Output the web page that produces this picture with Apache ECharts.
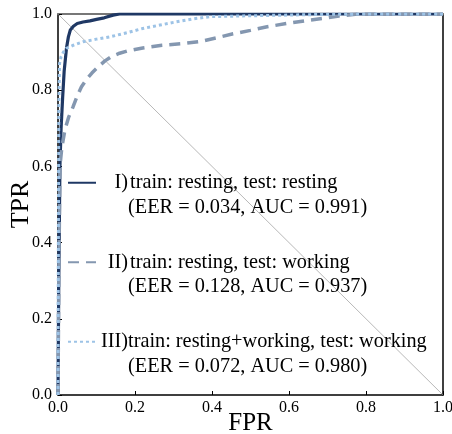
<!DOCTYPE html>
<html>
<head>
<meta charset="utf-8">
<script src="https://cdn.jsdelivr.net/npm/echarts@6/dist/echarts.min.js"></script>
<style>html,body{margin:0;padding:0;background:#fff;}#c{width:452px;height:434px;}</style>
</head>
<body>
<div id="c"></div>
<script>
// ROC curve I: train resting, test resting
const fprI = [0, 0.002, 0.005, 0.008, 0.012, 0.016, 0.022, 0.027, 0.032, 0.04, 0.05, 0.065, 0.083, 0.1, 0.12, 0.143, 0.16, 0.3, 0.6, 1.0];
const tprI = [0, 0.3, 0.6, 0.7, 0.78, 0.85, 0.91, 0.94, 0.958, 0.968, 0.975, 0.979, 0.982, 0.986, 0.99, 0.997, 1.0, 1.0, 1.0, 1.0];
// ROC curve II: train resting, test working
const fprII = [0, 0.002, 0.005, 0.01, 0.018, 0.028, 0.039, 0.05, 0.061, 0.075, 0.088, 0.105, 0.122, 0.14, 0.16, 0.18, 0.22, 0.27, 0.32, 0.37, 0.41, 0.455, 0.5, 0.54, 0.6, 0.655, 0.7, 0.73, 0.78, 0.85, 1.0];
const tprII = [0, 0.3, 0.6, 0.65, 0.696, 0.73, 0.756, 0.785, 0.809, 0.83, 0.845, 0.862, 0.877, 0.889, 0.897, 0.903, 0.911, 0.918, 0.922, 0.928, 0.937, 0.948, 0.957, 0.966, 0.976, 0.984, 0.99, 0.995, 1.0, 1.0, 1.0];
// ROC curve III: train resting+working, test working
const fprIII = [0, 0.001, 0.002, 0.004, 0.008, 0.014, 0.022, 0.04, 0.065, 0.1, 0.135, 0.18, 0.22, 0.265, 0.3, 0.35, 0.395, 0.48, 0.585, 0.7, 0.8, 1.0];
const tprIII = [0, 0.4, 0.75, 0.87, 0.888, 0.9, 0.91, 0.918, 0.927, 0.934, 0.94, 0.951, 0.962, 0.971, 0.978, 0.987, 0.993, 0.995, 0.997, 0.999, 1.0, 1.0];
// chance diagonal (as drawn in the reference)
const diagX = [0, 1];
const diagY = [1, 0];

const seriesNames = ['I', 'II', 'III'];
const legendKeys = ['I)', 'II)', 'III)'];
const legendLine1 = ['train: resting, test: resting', 'train: resting, test: working', 'train: resting+working, test: working'];
const legendLine2 = ['(EER = 0.034, AUC = 0.991)', '(EER = 0.128, AUC = 0.937)', '(EER = 0.072, AUC = 0.980)'];

function zip(xs, ys) { return xs.map((x, i) => [x, ys[i]]); }

const FONT = '"Liberation Serif", "Times New Roman", serif';
const LFS = 20.3;   // legend font size
const LLH = 24.5;   // legend line height
const chart = echarts.init(document.getElementById('c'), null, {renderer: 'canvas'});

chart.setOption({
  animation: false,
  backgroundColor: '#fff',
  grid: {left: 58, right: 9, top: 14, bottom: 39, outerBoundsMode: 'none'},
  xAxis: [{
    type: 'value', min: 0, max: 1, interval: 0.2, position: 'bottom',
    name: 'FPR', nameLocation: 'middle', nameGap: 16, nameMoveOverlap: false,
    nameTextStyle: {fontFamily: FONT, fontSize: 25, color: '#000'},
    axisLine: {show: true, onZero: false, lineStyle: {color: '#000', width: 1.5}},
    axisTick: {show: true, inside: true, length: 4, lineStyle: {color: '#000'}},
    axisLabel: {fontFamily: FONT, fontSize: 16, color: '#000', margin: 5,
      formatter: v => v.toFixed(1)},
    splitLine: {show: false}
  }, {
    type: 'value', min: 0, max: 1, position: 'top',
    axisLine: {show: true, onZero: false, lineStyle: {color: '#777', width: 2}},
    axisTick: {show: false}, axisLabel: {show: false}, splitLine: {show: false}
  }],
  yAxis: [{
    type: 'value', min: 0, max: 1, interval: 0.2, position: 'left',
    name: 'TPR', nameLocation: 'middle', nameGap: 24, nameMoveOverlap: false,
    nameTextStyle: {fontFamily: FONT, fontSize: 26, color: '#000'},
    axisLine: {show: true, onZero: false, lineStyle: {color: '#000', width: 1.5}},
    axisTick: {show: true, inside: true, length: 4, lineStyle: {color: '#000'}},
    axisLabel: {fontFamily: FONT, fontSize: 16, color: '#000', margin: 6,
      formatter: v => v.toFixed(1)},
    splitLine: {show: false}
  }, {
    type: 'value', min: 0, max: 1, position: 'right',
    axisLine: {show: true, onZero: false, lineStyle: {color: '#000', width: 1.5}},
    axisTick: {show: false}, axisLabel: {show: false}, splitLine: {show: false}
  }],
  legend: {
    orient: 'vertical', left: 67, top: 146, padding: 0, itemGap: 6,
    itemWidth: 28, itemHeight: 10,
    itemStyle: {opacity: 0},
    data: seriesNames,
    formatter: function (name) {
      const i = seriesNames.indexOf(name);
      return '{e| }\n{k' + i + '|' + legendKeys[i] + '}{t|' + legendLine1[i] + '}\n{k2| }{t|' + legendLine2[i] + '}';
    },
    textStyle: {
      fontFamily: FONT, fontSize: LFS, color: '#000', lineHeight: LLH,
      rich: {
        e: {fontFamily: FONT, fontSize: LFS, lineHeight: LLH},
        k0: {fontFamily: FONT, fontSize: LFS, lineHeight: LLH, color: '#000', padding: [0, 0, 0, 13.5]},
        k1: {fontFamily: FONT, fontSize: LFS, lineHeight: LLH, color: '#000', padding: [0, 0, 0, 6.8]},
        k2: {fontFamily: FONT, fontSize: LFS, lineHeight: LLH, color: '#000', width: 25},
        t: {fontFamily: FONT, fontSize: LFS, lineHeight: LLH, color: '#000', padding: [0, 0, 0, 2]}
      }
    }
  },
  series: [{
    name: 'diag', type: 'line', data: zip(diagX, diagY), symbol: 'none', silent: true,
    lineStyle: {color: '#999', width: 0.7}, z: 1
  }, {
    name: 'I', type: 'line', data: zip(fprI, tprI), symbol: 'none',
    lineStyle: {color: '#1f3864', width: 3.2}, itemStyle: {color: '#1f3864'}, z: 3
  }, {
    name: 'II', type: 'line', data: zip(fprII, tprII), symbol: 'none',
    lineStyle: {color: '#8497b0', width: 3.5, type: [11, 7]}, itemStyle: {color: '#8497b0'}, z: 3
  }, {
    name: 'III', type: 'line', data: zip(fprIII, tprIII), symbol: 'none',
    lineStyle: {color: '#9dc3e6', width: 3, type: [3, 3]}, itemStyle: {color: '#9dc3e6'}, z: 3
  }]
});
</script>
</body>
</html>
